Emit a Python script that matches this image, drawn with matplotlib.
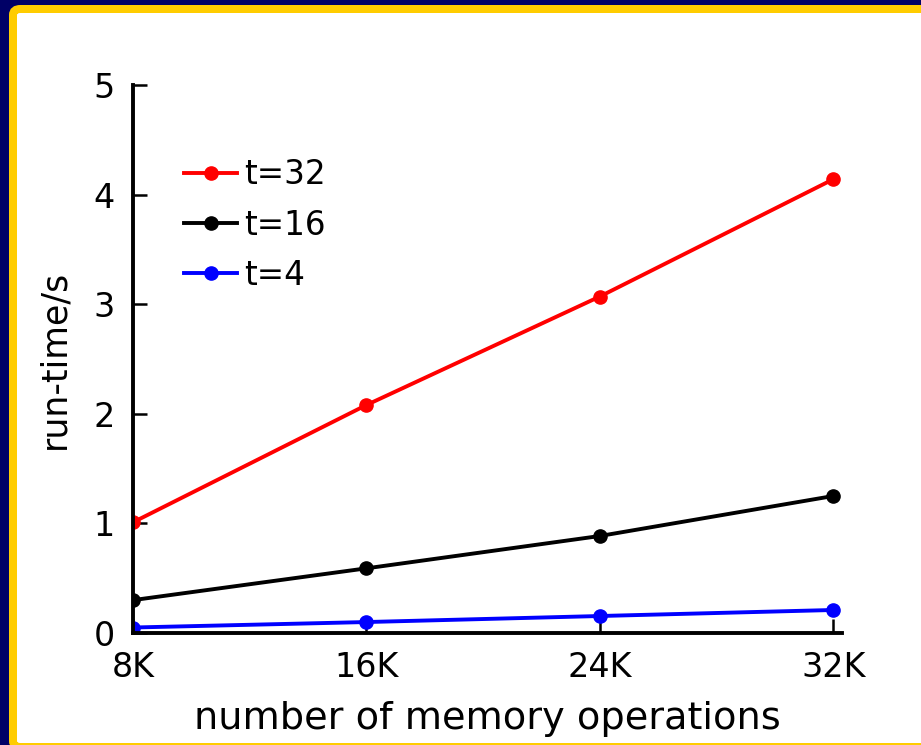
import matplotlib.pyplot as plt
from matplotlib.patches import FancyBboxPatch

# memory operations (thousands)
ops = [8, 16, 24, 32]
tick_labels = ['8K', '16K', '24K', '32K']

t32 = [1.01, 2.08, 3.07, 4.14]
t16 = [0.30, 0.59, 0.885, 1.25]
t4 = [0.05, 0.10, 0.155, 0.21]

W, H = 921, 745
fig = plt.figure(figsize=(W / 100, H / 100), dpi=100)
fig.patch.set_facecolor('#000066')

# white slide panel with yellow frame
px = lambda x, y: (x / W, 1 - y / H)
x0, y0 = px(13, 9)
x1, y1 = px(940, 747)
frame = FancyBboxPatch((x0, y1), x1 - x0, y0 - y1,
                       boxstyle='round,pad=0,rounding_size=0.008',
                       transform=fig.transFigure, facecolor='white',
                       edgecolor='#ffcc00', linewidth=8 * 0.72, zorder=-5)
fig.patches.append(frame)

ax = fig.add_axes([133 / W, (H - 633) / H, (842 - 133) / W, (633 - 85) / H])
ax.set_facecolor('none')

ax.plot(ops, t32, '-o', color='red', lw=2.8, ms=9.5, label='t=32')
ax.plot(ops, t16, '-o', color='black', lw=2.8, ms=9.5, label='t=16')
ax.plot(ops, t4, '-o', color='blue', lw=2.8, ms=9.5, label='t=4')

ax.set_xlim(8, 32.3)
ax.set_ylim(0, 5)
ax.set_xticks(ops)
ax.set_xticklabels(tick_labels)
ax.set_yticks([0, 1, 2, 3, 4, 5])

ax.spines['top'].set_visible(False)
ax.spines['right'].set_visible(False)
for s in ['left', 'bottom']:
    ax.spines[s].set_linewidth(2.8)
ax.tick_params(direction='in', length=10, width=1.8, labelsize=24, pad=13)

ax.set_xlabel('number of memory operations', fontsize=27.5, labelpad=12)
ax.set_ylabel('run-time/s', fontsize=25, labelpad=16)

ax.legend(loc='upper left', frameon=False, fontsize=23.5, handlelength=1.65,
          handletextpad=0.2, labelspacing=0.53, bbox_to_anchor=(0.03, 0.92))

fig.savefig('out.png', dpi=100, facecolor=fig.get_facecolor())
